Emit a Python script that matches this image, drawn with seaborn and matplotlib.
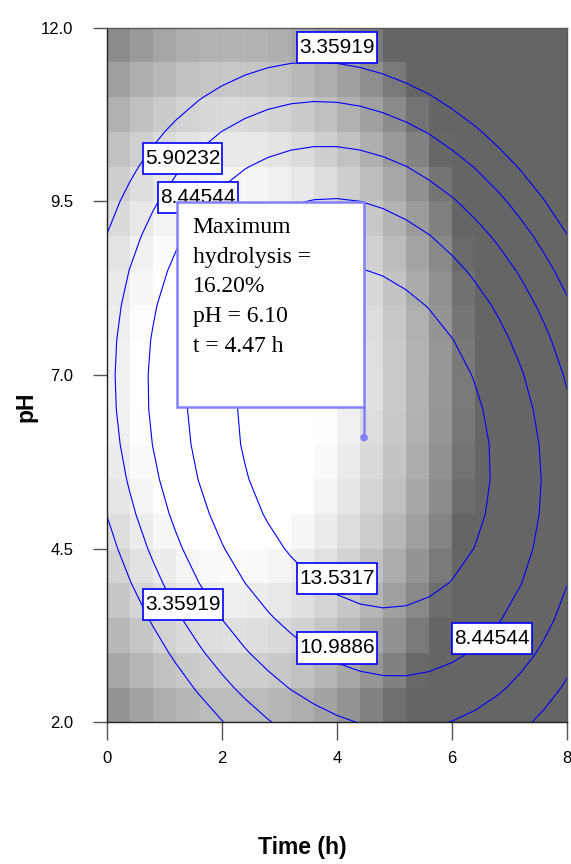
import numpy as np
import matplotlib
matplotlib.use("Agg")
import matplotlib.pyplot as plt
from matplotlib.patches import Rectangle
from matplotlib.path import Path
import seaborn as sns

# ---------------- data ----------------
time_ticks = [0, 2, 4, 6, 8]
ph_ticks = [2.0, 4.5, 7.0, 9.5, 12.0]
ph_tick_labels = ["2.0", "4.5", "7.0", "9.5", "12.0"]

# grid nodes of the fitted response surface (time in h, pH)
time_nodes = np.linspace(0, 8, 21)
ph_nodes = np.linspace(2, 12, 21)

# optimum of the fitted model
t_opt = 4.47
ph_opt = 6.10
y_max = 16.20

# quadratic model: Y = y_max - a*dt^2 - b*dpH^2 - c*dt*dpH
quad_coefs = [0.568, 0.454, 0.183]

# contour levels and their label positions (time, pH)
contour_levels = [3.35919, 5.90232, 8.44544, 10.9886, 13.5317]
label_levels = [3.35919, 5.90232, 8.44544, 3.35919, 13.5317, 10.9886, 8.44544]
label_time = [4.00, 1.32, 1.58, 1.32, 4.00, 4.00, 6.69]
label_ph = [11.71, 10.12, 9.56, 3.70, 4.07, 3.07, 3.21]

# grey shading surface (grey level 0-255): 255 - (kt*(t-tc)^2 + d0 + kp*(pH-pc)^2)
shade_center = [2.2, 6.9]
shade_coefs = [10.0, 4.3, -26.0]
shade_limits = [101, 255]

# ---------------- style ----------------
sns.set_theme(style="ticks")
plt.rcParams["font.family"] = ["Liberation Sans", "DejaVu Sans"]

fig = plt.figure(figsize=(5.71, 8.64), dpi=100)
ax = fig.add_axes([0.1869, 0.1640, 0.8066, 0.8039])

# model surface on the grid
T, P = np.meshgrid(time_nodes, ph_nodes)
a, b, c = quad_coefs
dT = T - t_opt
dP = P - ph_opt
Y = y_max - a * dT ** 2 - b * dP ** 2 - c * dT * dP

# shading on cell centres
tcen = (time_nodes[:-1] + time_nodes[1:]) / 2
pcen = (ph_nodes[:-1] + ph_nodes[1:]) / 2
TC, PC = np.meshgrid(tcen, pcen)
kt, kp, d0 = shade_coefs
G = 255 - (kt * (TC - shade_center[0]) ** 2 + d0 + kp * (PC - shade_center[1]) ** 2)
G = np.clip(G, *shade_limits)

ax.pcolormesh(time_nodes, ph_nodes, G, cmap="gray", vmin=0, vmax=255,
              shading="flat", edgecolors="none", antialiased=False, zorder=1)
ax.contour(T, P, Y, levels=contour_levels, colors="#0000ff", linewidths=0.8, zorder=2)


def label_box(x0, y0, width, height, mutation_size):
    px = 0.10 * mutation_size
    py = 0.29 * mutation_size
    x0 -= px
    y0 -= py
    x1 = x0 + width + 2 * px
    y1 = y0 + height + 2 * py
    return Path([(x0, y0), (x1, y0), (x1, y1), (x0, y1), (x0, y0)], closed=True)


for lv, tx, py in zip(label_levels, label_time, label_ph):
    ax.text(tx, py, f"{lv:g}", ha="center", va="center", fontsize=15, color="black",
            bbox=dict(boxstyle=label_box, fc="white", ec="#0000ff", lw=1.2),
            zorder=5)

# annotation box for the maximum
box_left, box_bottom, box_top = 1.226, 6.533, 9.485
ax.add_patch(Rectangle((box_left, box_bottom), t_opt - box_left, box_top - box_bottom,
                       fc="white", ec="#8080ff", lw=1.8, zorder=6))
ax.plot([t_opt, t_opt], [box_bottom, ph_opt], color="#8080ff", lw=1.8, zorder=6)
sns.scatterplot(x=[t_opt], y=[ph_opt], ax=ax, s=30, color="#8080ff",
                edgecolor="none", zorder=7, legend=False)

ann_lines = ["Maximum", "hydrolysis =", f"{y_max:.2f}%", f"pH = {ph_opt:.2f}",
             f"t = {t_opt:.2f} h"]
for i, line in enumerate(ann_lines):
    ax.text(1.494, 9.047 - i * 0.428, line, ha="left", va="baseline", fontsize=17,
            family=["Liberation Serif", "DejaVu Serif"], color="black", zorder=8)

# axes
ax.set_xlim(0, 8)
ax.set_ylim(2, 12)
ax.set_xticks(time_ticks)
ax.set_xticklabels([str(v) for v in time_ticks])
ax.set_yticks(ph_ticks)
ax.set_yticklabels(ph_tick_labels)
ax.tick_params(axis="x", direction="out", length=13, width=1, color="#555555",
               pad=8, labelsize=12, labelcolor="black")
ax.tick_params(axis="y", direction="out", length=10, width=1, color="#555555",
               pad=14, labelsize=12, labelcolor="black")
for side in ["left", "bottom"]:
    ax.spines[side].set_color("#222222")
    ax.spines[side].set_linewidth(1.0)
for side in ["top", "right"]:
    ax.spines[side].set_color("#5a5a5a")
    ax.spines[side].set_linewidth(1.0)
    ax.spines[side].set_visible(True)

ax.set_xlabel("Time (h)", fontsize=16.5, fontweight="bold", color="black")
ax.set_ylabel("pH", fontsize=16.5, fontweight="bold", color="black")
ax.xaxis.set_label_coords(0.424, -0.163)
ax.yaxis.set_label_coords(-0.151, 0.455)

fig.savefig("out.png", dpi=100)
